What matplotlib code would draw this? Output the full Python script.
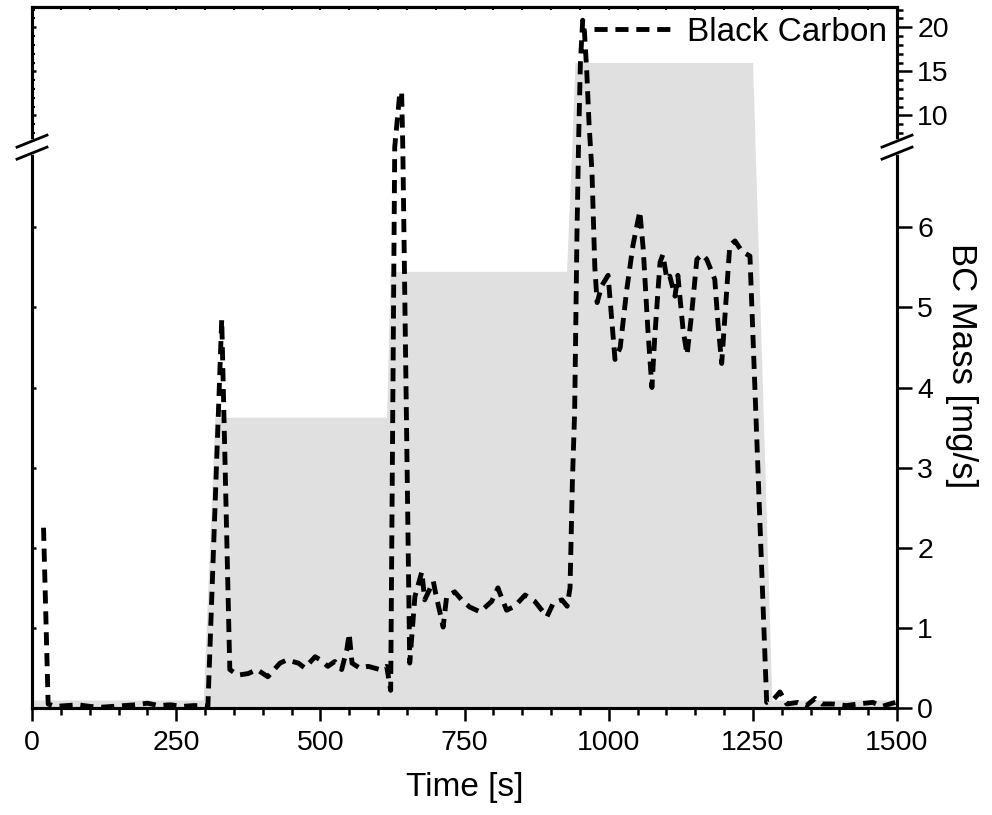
import numpy as np
import matplotlib
matplotlib.use('Agg')
import matplotlib.pyplot as plt

plt.rcParams['font.family'] = ['Liberation Sans', 'DejaVu Sans']

# load profile (grey area)
t_load = [0, 297, 317, 615, 621, 927, 936, 941.5, 1249.5, 1254, 1283, 1500]
load = [0.1, 0.1, 3.63, 3.63, 5.45, 5.45, 7.0, 16.0, 16.0, 7.0, 0.1, 0.1]

# black carbon mass flow
t_bc = [20, 28, 40, 60, 80, 100, 120, 140, 160, 180, 200, 220, 240, 260, 280, 300, 305,
        329, 343, 357, 375, 390, 409, 430, 442, 462, 473, 491, 500, 513, 525, 537, 546,
        550, 555, 568, 583, 603, 615, 622, 629, 638, 641, 643, 655, 664, 676, 681, 696,
        700, 713, 719, 733, 745, 759, 777, 797, 808, 811, 823, 837, 855, 872, 893, 904,
        919, 928, 933, 937, 941, 945, 948, 951, 955, 958, 962, 966, 971, 976, 980, 988,
        999, 1011, 1020, 1031, 1042, 1054, 1060, 1068, 1075, 1080, 1089, 1094, 1101,
        1106, 1115, 1120, 1129, 1136, 1144, 1153, 1162, 1170, 1184, 1190, 1196, 1202,
        1210, 1219, 1231, 1245, 1274, 1285, 1297, 1309, 1328, 1343, 1358, 1370, 1389,
        1412, 1432, 1458, 1474, 1497]
bc = [2.25, 0.05, 0.02, 0.03, 0.04, 0.02, 0.01, 0.02, 0.03, 0.04, 0.06, 0.03, 0.04, 0.02, 0.03, 0.03, 0.02,
      4.85, 0.48, 0.41, 0.43, 0.48, 0.39, 0.56, 0.60, 0.56, 0.50, 0.64, 0.60, 0.52, 0.58, 0.48, 0.73,
      0.93, 0.56, 0.50, 0.52, 0.48, 0.52, 0.22, 7.0, 12.7, 12.5, 7.0, 0.56, 1.39, 1.70, 1.35, 1.58,
      1.43, 1.01, 1.39, 1.45, 1.35, 1.26, 1.20, 1.33, 1.50, 1.44, 1.22, 1.27, 1.41, 1.33, 1.14, 1.31,
      1.35, 1.27, 1.50, 2.8, 3.7, 5.9, 7.5, 16.0, 20.8, 19.5, 15.0, 9.0, 6.7, 5.5, 5.06, 5.27,
      5.40, 4.35, 4.50, 5.20, 5.77, 6.20, 5.72, 4.72, 4.00, 4.64, 5.56, 5.66, 5.35,
      5.39, 5.14, 5.40, 4.72, 4.41, 4.93, 5.60, 5.66, 5.60, 5.35, 4.76, 4.30, 4.93,
      5.77, 5.83, 5.70, 5.64, 0.07, 0.10, 0.20, 0.05, 0.07, 0.03, 0.12, 0.05, 0.05,
      0.03, 0.05, 0.07, 0.02, 0.07]

x_major = [0, 250, 500, 750, 1000, 1250, 1500]
y_major = [0, 1, 2, 3, 4, 5, 6, 10, 15, 20]
y_minor = [8, 9, 11, 12, 13, 14, 16, 17, 18, 19, 21, 22]

# broken y axis: 0..7 below the break, 6.4..22.3 above it (compressed)
LOW_TOP = 7.0
UP_BOT = 6.4
UP_TOP = 22.3
K = 8.8 / 80.0


def forward(y):
    y = np.asarray(y, dtype=float)
    return np.where(y <= LOW_TOP, y, LOW_TOP + (y - UP_BOT) * K)


def inverse(v):
    v = np.asarray(v, dtype=float)
    return np.where(v <= LOW_TOP, v, UP_BOT + (v - LOW_TOP) / K)


fig = plt.figure(figsize=(9.92, 8.15), dpi=100)
ax = fig.add_axes([32 / 992, 107 / 815, 865 / 992, 701 / 815])
ax2 = ax.twinx()

for a in (ax, ax2):
    a.set_yscale('function', functions=(forward, inverse))
    a.set_ylim(0, UP_TOP)
    a.set_yticks(y_major)
    a.set_yticks(y_minor, minor=True)

ax.fill_between(t_load, 0, load, color='#e0e0e0', lw=0, zorder=1)
ax.plot(t_bc, bc, color='black', lw=3.5, ls=(0, (2.7, 1.6)), label='Black Carbon', zorder=3)

ax.set_xlim(0, 1500)
ax.set_xticks(x_major)
ax.set_xticks(np.arange(0, 1501, 50), minor=True)

ax.tick_params(axis='x', which='major', direction='out', length=9.5, width=1.8,
               labelsize=20.5, pad=6)
ax.tick_params(axis='x', which='minor', direction='out', length=5, width=1.8)
ax.tick_params(axis='y', which='major', direction='in', length=3, width=1.8, labelleft=False)
ax.tick_params(axis='y', which='minor', direction='in', length=2, width=1.5)

ax2.tick_params(axis='y', which='major', direction='out', length=10.5, width=1.8,
                labelsize=20.5, pad=4)
ax2.tick_params(axis='y', which='minor', direction='out', length=4.5, width=1.8)
ax2.yaxis.set_minor_formatter(plt.NullFormatter())

top = ax.secondary_xaxis('top')
top.set_xticks(x_major)
top.set_xticks(np.arange(0, 1501, 50), minor=True)
top.tick_params(which='both', direction='in', length=2.5, width=1.5, labeltop=False)

for a in (ax, ax2):
    for s in a.spines.values():
        s.set_linewidth(2.2)
top.spines['top'].set_linewidth(2.2)

ax.set_xlabel('Time [s]', fontsize=24, labelpad=12)
ax2.set_ylabel('BC Mass [mg/s]', fontsize=25, rotation=270, va='center', ha='center')
ax2.yaxis.set_label_coords(1.075, 0.488)

leg = ax.legend(loc='upper right', bbox_to_anchor=(1.0, 1.0), frameon=False, fontsize=24,
                handlelength=2.35, handletextpad=0.45, borderpad=0.0, borderaxespad=0.3)

# break marks on both spines
yb = float(forward(LOW_TOP)) / float(forward(UP_TOP))
w, h = 865.0, 701.0
for xs in (0.0, 1.0):
    ax2.plot([xs, xs], [yb - 5 / h, yb + 5 / h], transform=ax2.transAxes, color='white',
             lw=4, clip_on=False, zorder=10)
    for off in (-6, 6):
        ax2.plot([xs - 15 / w, xs + 15 / w], [yb + (off - 6) / h, yb + (off + 6) / h],
                 transform=ax2.transAxes, color='black', lw=2, clip_on=False, zorder=11)

fig.savefig('out.png', dpi=100)
